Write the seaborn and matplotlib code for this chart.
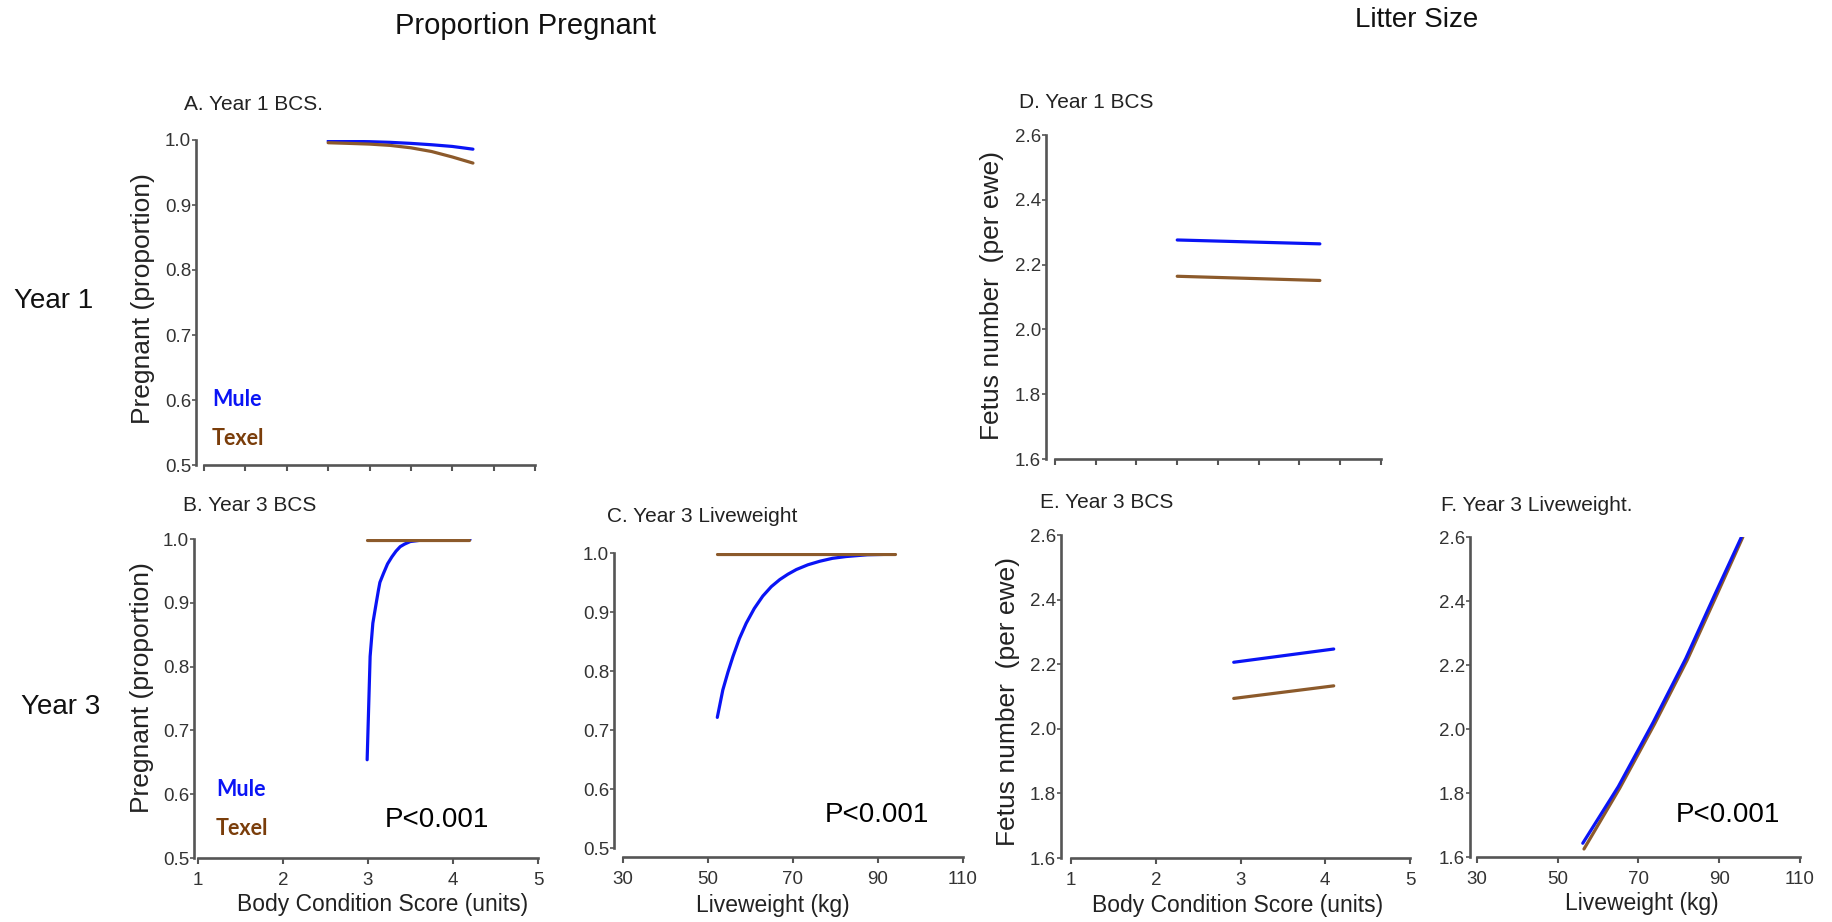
import matplotlib
matplotlib.use("Agg")
import matplotlib.pyplot as plt
import seaborn as sns
import pandas as pd

# ---- data ----
breeds = ["Mule", "Texel"]

# A. Year 1 BCS (proportion pregnant)
a_bcs = [2.5, 2.75, 3.0, 3.25, 3.5, 3.75, 4.0, 4.25]
a_mule = [0.9984, 0.9979, 0.9974, 0.9964, 0.9948, 0.9927, 0.9901, 0.9859]
a_texel = [0.9958, 0.9948, 0.9937, 0.9917, 0.9880, 0.9823, 0.9739, 0.9645]

# B. Year 3 BCS (proportion pregnant)
b_bcs_mule = [2.99, 3.025, 3.057, 3.096, 3.123, 3.14, 3.182, 3.23, 3.281, 3.33, 3.379,
              3.43, 3.497, 3.615, 4.2]
b_mule = [0.654, 0.816, 0.868, 0.899, 0.920, 0.932, 0.946, 0.961, 0.972, 0.981, 0.988,
          0.992, 0.996, 0.998, 0.999]
b_bcs_texel = [2.99, 4.19]
b_texel = [0.999, 0.999]

# C. Year 3 liveweight (proportion pregnant)
c_lw_mule = [52.2, 53.5, 54.7, 55.9, 57.4, 59.0, 60.9, 62.9, 64.9, 66.9, 68.8, 70.8,
             73.5, 76.3, 79.3, 82.5, 87.5, 93.9]
c_mule = [0.7215, 0.768, 0.798, 0.825, 0.855, 0.881, 0.906, 0.927, 0.943, 0.955, 0.964,
          0.972, 0.980, 0.986, 0.991, 0.994, 0.997, 0.998]
c_lw_texel = [52.2, 93.9]
c_texel = [0.998, 0.998]

# D. Year 1 BCS (fetus number)
d_bcs = [2.5, 4.25]
d_mule = [2.276, 2.264]
d_texel = [2.164, 2.151]

# E. Year 3 BCS (fetus number)
e_bcs = [2.92, 4.10]
e_mule = [2.206, 2.247]
e_texel = [2.094, 2.133]

# F. Year 3 liveweight (fetus number)
f_lw_mule = [56.2, 65.0, 73.6, 81.7, 88.9, 95.5]
f_mule = [1.643, 1.82, 2.02, 2.22, 2.42, 2.6]
f_lw_texel = [56.5, 65.35, 73.95, 82.05, 89.25, 95.85]
f_texel = [1.625, 1.815, 2.015, 2.215, 2.415, 2.6]

bcs_ticks = [1, 2, 3, 4, 5]
bcs_half_ticks = [1, 1.5, 2, 2.5, 3, 3.5, 4, 4.5, 5]
lw_ticks = [30, 50, 70, 90, 110]
lw_minor = [40, 60, 80, 100]
prop_ticks = [0.5, 0.6, 0.7, 0.8, 0.9, 1.0]
fetus_ticks = [1.6, 1.8, 2.0, 2.2, 2.4, 2.6]

# ---- style ----
sns.set_style("white")
plt.rcParams["font.family"] = ["Liberation Sans", "DejaVu Sans"]

W, H = 1832, 922
fig = plt.figure(figsize=(W / 100, H / 100), dpi=100)

MULE = "#0a14f5"
TEXEL_LINE = "#8c5a2b"
TEXEL_TEXT = "#7a3d0a"
AXCOL = "#555555"
LW = 2.3


def fx(x):
    return x / W


def fy(y):
    return 1 - y / H


def make_axes(left, top, right, bottom):
    return fig.add_axes([fx(left), fy(bottom), (right - left) / W, (bottom - top) / H])


def style_axes(ax, xlim, ylim, xb, yb, xt, yt, xlabels=True, minor=None):
    ax.set_xlim(*xlim)
    ax.set_ylim(*ylim)
    for s in ["top", "right"]:
        ax.spines[s].set_visible(False)
    for s in ["left", "bottom"]:
        ax.spines[s].set_color(AXCOL)
        ax.spines[s].set_linewidth(1.9)
    ax.spines["bottom"].set_bounds(*xb)
    ax.spines["left"].set_bounds(*yb)
    ax.set_xticks(xt)
    ax.set_yticks(yt)
    ax.set_yticklabels([f"{v:.1f}" for v in yt])
    if minor is not None:
        ax.set_xticks(minor, minor=True)
        ax.tick_params(axis="x", which="minor", length=4, width=1.5, color=AXCOL, direction="out")
    if not xlabels:
        ax.set_xticklabels([])
    ax.tick_params(axis="y", length=3, width=1.2, color=AXCOL, pad=0.5,
                   labelsize=13.5, labelcolor="#333333", direction="out", left=True)
    ax.tick_params(axis="x", length=4, width=1.5, color=AXCOL, pad=6,
                   labelsize=13.5, labelcolor="#333333", direction="out", bottom=True)
    ax.set_facecolor("white")
    ax.grid(False)


def draw(ax, x, y, color):
    df = pd.DataFrame({"x": x, "y": y})
    sns.lineplot(data=df, x="x", y="y", color=color, linewidth=LW, ax=ax,
                 sort=False, estimator=None)


def ylab(ax, text, cx, cy):
    ax.set_ylabel(text, fontsize=19, color="#222222")
    ax.yaxis.set_label_coords(cx, cy)
    ax.yaxis.label.set_va("center")


def xlab(ax, text, cx, cy):
    ax.set_xlabel(text, fontsize=16.5, color="#222222")
    ax.xaxis.set_label_coords(cx, cy)
    ax.xaxis.label.set_va("center")


# ---- A ----
axA = make_axes(196, 140, 535, 465)
draw(axA, a_bcs, a_mule, MULE)
draw(axA, a_bcs, a_texel, TEXEL_LINE)
style_axes(axA, (0.903, 5.0), (0.5, 1.0), (1, 5), (0.5, 1.0), bcs_half_ticks, prop_ticks, xlabels=False)
axA.set_xlabel("")
ylab(axA, "Pregnant (proportion)", -0.156, 0.511)

# ---- B ----
axB = make_axes(194, 539, 538, 858)
draw(axB, b_bcs_mule, b_mule, MULE)
draw(axB, b_bcs_texel, b_texel, TEXEL_LINE)
style_axes(axB, (0.953, 5.0), (0.5, 1.0), (1, 5), (0.5, 1.0), bcs_ticks, prop_ticks)
ylab(axB, "Pregnant (proportion)", -0.151, 0.533)
xlab(axB, "Body Condition Score (units)", 0.547, -0.147)

# ---- C ----
axC = make_axes(614, 553, 963, 857)
draw(axC, c_lw_mule, c_mule, MULE)
draw(axC, c_lw_texel, c_texel, TEXEL_LINE)
style_axes(axC, (27.9, 110), (0.485, 1.0), (30, 110), (0.5, 1.0), lw_ticks, prop_ticks, minor=lw_minor)
axC.set_ylabel("")
xlab(axC, "Liveweight (kg)", 0.456, -0.158)

# ---- D ----
axD = make_axes(1046, 135, 1381, 459)
draw(axD, d_bcs, d_mule, MULE)
draw(axD, d_bcs, d_texel, TEXEL_LINE)
style_axes(axD, (0.89, 5.0), (1.6, 2.6), (1, 5), (1.6, 2.6), bcs_half_ticks, fetus_ticks, xlabels=False)
axD.set_xlabel("")
ylab(axD, "Fetus number  (per ewe)", -0.161, 0.506)

# ---- E ----
axE = make_axes(1061, 535, 1410, 858)
draw(axE, e_bcs, e_mule, MULE)
draw(axE, e_bcs, e_texel, TEXEL_LINE)
style_axes(axE, (0.882, 5.0), (1.6, 2.6), (1, 5), (1.6, 2.6), bcs_ticks, fetus_ticks)
ylab(axE, "Fetus number  (per ewe)", -0.152, 0.483)
xlab(axE, "Body Condition Score (units)", 0.507, -0.146)

# ---- F ----
axF = make_axes(1470, 537, 1800, 857)
draw(axF, f_lw_texel, f_texel, TEXEL_LINE)
draw(axF, f_lw_mule, f_mule, MULE)
style_axes(axF, (28.27, 110), (1.6, 2.6), (30, 110), (1.6, 2.6), lw_ticks, fetus_ticks, minor=lw_minor)
axF.set_ylabel("")
xlab(axF, "Liveweight (kg)", 0.521, -0.144)

# ---- panel titles ----
panel_titles = [
    ("A. Year 1 BCS.", 184, 104),
    ("D. Year 1 BCS", 1019, 103),
    ("B. Year 3 BCS", 183, 505),
    ("C. Year 3 Liveweight", 607, 516),
    ("E. Year 3 BCS", 1040, 502),
    ("F. Year 3 Liveweight.", 1441, 505),
]
for txt, x, y in panel_titles:
    fig.text(fx(x), fy(y), txt, fontsize=15, ha="left", va="center", color="#222222")

fig.text(fx(395), fy(26), "Proportion Pregnant", fontsize=21, ha="left", va="center", color="#111111")
fig.text(fx(1355), fy(20), "Litter Size", fontsize=20, ha="left", va="center", color="#111111")
fig.text(fx(14), fy(301), "Year 1", fontsize=20, ha="left", va="center", color="#111111")
fig.text(fx(21), fy(707), "Year 3", fontsize=20, ha="left", va="center", color="#111111")

# significance notes
for x, y in [(385, 820), (825, 815), (1676, 815)]:
    fig.text(fx(x), fy(y), "P<0.001", fontsize=20, ha="left", va="center", color="#000000")

# breed key
for x, y in [(212, 399), (216, 789)]:
    fig.text(fx(x), fy(y), breeds[0], fontsize=15.5, fontweight="bold", family=["Lato", "DejaVu Sans"],
             ha="left", va="center", color=MULE)
    fig.text(fx(x), fy(y + 39), breeds[1], fontsize=15.5, fontweight="bold", family=["Lato", "DejaVu Sans"],
             ha="left", va="center", color=TEXEL_TEXT)

fig.savefig("out.png", dpi=100, facecolor="white")
